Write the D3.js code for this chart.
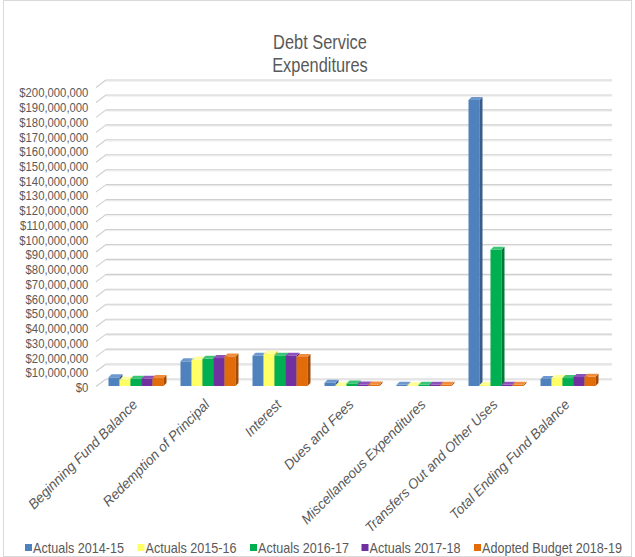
<!DOCTYPE html>
<html><head><meta charset="utf-8">
<script src="https://cdn.jsdelivr.net/npm/d3@7/dist/d3.min.js"></script>
<style>body{margin:0;background:#fff}svg{display:block}text{font-family:"Liberation Sans",Arial,sans-serif;fill:#595959}</style>
</head><body>
<svg id="c" width="635" height="557"></svg>
<script>
const categories = ["Beginning Fund Balance","Redemption of Principal","Interest","Dues and Fees","Miscellaneous Expenditures","Transfers Out and Other Uses","Total Ending Fund Balance"];
const seriesNames = ["Actuals 2014-15","Actuals 2015-16","Actuals 2016-17","Actuals 2017-18","Adopted Budget 2018-19"];
const actuals1415 = [5800000,16500000,20300000,2200000,800000,191300000,4700000];
const actuals1516 = [4200000,17500000,21600000,500000,500000,700000,5300000];
const actuals1617 = [4900000,18200000,20300000,1700000,800000,91200000,5300000];
const actuals1718 = [4900000,18700000,20300000,1000000,800000,800000,6000000];
const adopted1819 = [5300000,19800000,19400000,1000000,800000,800000,6200000];
const tickValues = [0,10e6,20e6,30e6,40e6,50e6,60e6,70e6,80e6,90e6,100e6,110e6,120e6,130e6,140e6,150e6,160e6,170e6,180e6,190e6,200e6];
const colors = [
  {front:"#4F81BD",side:"#385D8A",top:"#6D98CE"},
  {front:"#FFFF66",side:"#C8C83A",top:"#FFFF99"},
  {front:"#00B050",side:"#007A37",top:"#3CC477"},
  {front:"#7030A0",side:"#4E2170",top:"#8C52BA"},
  {front:"#E36C0A",side:"#A04B06",top:"#F08C3C"}
];
const series = [actuals1415,actuals1516,actuals1617,actuals1718,adopted1819];

const svg = d3.select("#c");
svg.append("rect").attr("x",3.5).attr("y",0.5).attr("width",628).attr("height",556)
  .attr("fill","none").attr("stroke","#d9d9d9");

const yBack = d3.scaleLinear().domain([0,200e6]).range([379,80]);
const yBar = d3.scaleLinear().domain([0,200e6]).range([386,87]);
const yLab = d3.scaleLinear().domain([0,200e6]).range([387.3,92.7]);
const x = d3.scaleBand().domain(categories).range([100,604]).padding(0);

// gridlines
const grid = svg.append("g");
tickValues.forEach(v=>{
  const yb = yBack(v);
  grid.append("line").attr("x1",106).attr("x2",612).attr("y1",yb+1.2).attr("y2",yb+1.2).attr("stroke","#ececec").attr("stroke-width",1);
  grid.append("line").attr("x1",106).attr("x2",612).attr("y1",yb).attr("y2",yb).attr("stroke","#cfcfcf").attr("stroke-width",1.1);
  grid.append("line").attr("x1",96).attr("x2",106).attr("y1",yb+7.5).attr("y2",yb).attr("stroke","#cfcfcf").attr("stroke-width",1.1);
});

// y axis labels
const ax = svg.append("g").attr("transform","translate(91,0)")
  .call(d3.axisLeft(yLab).tickValues(tickValues).tickSize(0).tickPadding(3).tickFormat(d3.format("$,.0f")));
ax.select(".domain").remove();
ax.selectAll("text").attr("font-size","13px").attr("font-family","Liberation Sans, Arial, sans-serif").attr("fill","#595959").attr("transform","scale(0.87,1)");

// bars
const bw = 11, dx = 3, dy = 3, gw = bw*5;
const bars = svg.append("g");
categories.forEach((c,i)=>{
  const gx = x(c) + (x.bandwidth()-gw)/2;
  series.forEach((s,j)=>{
    const v = s[i], col = colors[j];
    const x0 = gx + j*bw, x1 = x0+bw, yt = yBar(v), yb = yBar(0);
    bars.append("rect").attr("x",x0).attr("y",yt).attr("width",bw).attr("height",yb-yt).attr("fill",col.front);
    bars.append("polygon").attr("points",`${x1},${yt} ${x1+dx},${yt-dy} ${x1+dx},${yb-dy} ${x1},${yb}`).attr("fill",col.side);
    bars.append("polygon").attr("points",`${x0},${yt} ${x0+dx},${yt-dy} ${x1+dx},${yt-dy} ${x1},${yt}`).attr("fill",col.top);
  });
});

// x labels
categories.forEach(c=>{
  const cx = x(c)+x.bandwidth()/2;
  svg.append("text").attr("transform",`translate(${cx-1},${402}) rotate(-45) scale(0.97,1)`)
    .attr("text-anchor","end").attr("dy","0.35em").attr("font-size","14px").attr("font-style","italic").text(c);
});

// title
svg.append("text").attr("transform","translate(320,49) scale(0.82,1)").attr("text-anchor","middle").attr("font-size","20px").text("Debt Service");
svg.append("text").attr("transform","translate(320,72) scale(0.82,1)").attr("text-anchor","middle").attr("font-size","20px").text("Expenditures");

// legend
const legX = [25,137.5,250,361.5,474];
seriesNames.forEach((n,j)=>{
  svg.append("rect").attr("x",legX[j]).attr("y",544).attr("width",7).attr("height",7).attr("fill",colors[j].front);
  svg.append("text").attr("transform",`translate(${legX[j]+8},553) scale(0.9,1)`).attr("font-size","14px").text(n);
});
</script>
</body></html>
